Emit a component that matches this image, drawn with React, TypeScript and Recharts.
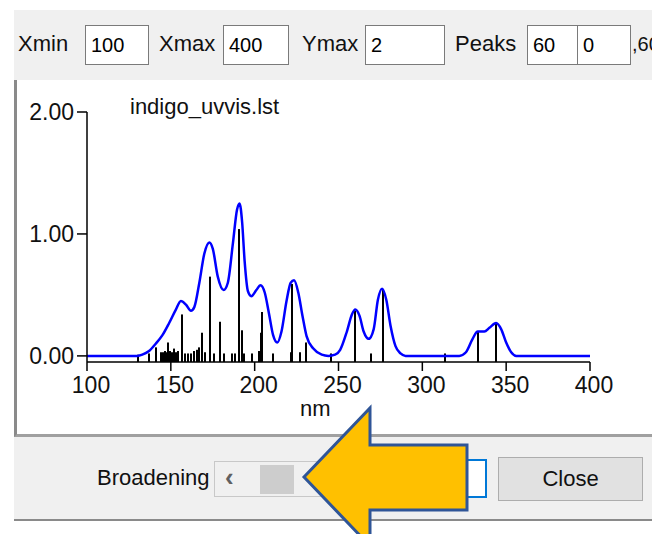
import { ComposedChart, Line, Bar, XAxis, YAxis } from 'recharts';

// broadened spectrum (nm / absorbance)
const curveNm = [
  100, 130, 133, 137, 141, 145, 149, 153, 156, 159, 162, 164, 167, 170, 173, 175, 178, 181.5,
  184, 187, 189.5, 191, 192.5, 194, 196, 198, 201, 203.5, 206, 208.5, 211, 213.5, 216, 219,
  221.5, 223.5, 226, 228.5, 231, 235, 240, 244, 248, 251, 255, 258, 260, 262.5, 265, 268,
  271, 273.5, 276, 278.5, 281, 284, 287, 290, 322, 326, 330, 333, 337, 340, 344, 347, 350,
  353, 356, 400,
];
const curveAbs = [
  0, 0, 0.01, 0.04, 0.1, 0.17, 0.27, 0.38, 0.45, 0.42, 0.37, 0.4, 0.6, 0.84, 0.93, 0.88, 0.65,
  0.54, 0.6, 0.92, 1.2, 1.25, 1.1, 0.78, 0.53, 0.49, 0.54, 0.58, 0.52, 0.35, 0.17, 0.11, 0.2,
  0.45, 0.6, 0.62, 0.52, 0.33, 0.16, 0.06, 0.01, 0, 0.01, 0.05, 0.2, 0.34, 0.38, 0.33, 0.2,
  0.14, 0.22, 0.46, 0.55, 0.46, 0.25, 0.08, 0.02, 0, 0, 0.03, 0.14, 0.2, 0.2, 0.23, 0.27, 0.22,
  0.11, 0.03, 0, 0,
];

// stick spectrum (transitions)
const stickNm = [
  130.3, 137, 141, 144, 145.5, 146.5, 147.5, 148.4, 149.5, 150.5, 151.8, 153, 154.5, 156.6,
  158.5, 160.5, 162, 163.9, 165.5, 166.9, 168.5, 170.3, 173.3, 176, 179.4, 182, 186.6, 188.5,
  190.4, 192.4, 193.4, 198.4, 202.5, 203.5, 204.3, 210.7, 221.5, 222.3, 227.2, 230.8, 245.6,
  260.1, 269.5, 276.6, 313.7, 333.2, 343.9,
];
const stickHeight = [
  0.01, 0.02, 0.07, 0.03, 0.03, 0.04, 0.03, 0.11, 0.04, 0.03, 0.06, 0.03, 0.04, 0.34, 0.02,
  0.02, 0.02, 0.04, 0.05, 0.07, 0.19, 0.03, 0.65, 0.02, 0.28, 0.02, 0.02, 0.02, 1.04, 0.21,
  0.02, 0.02, 0.04, 0.19, 0.36, 0.02, 0.03, 0.59, 0.03, 0.11, 0.02, 0.37, 0.02, 0.54, 0.02,
  0.2, 0.27,
];

const xTicks = [100, 150, 200, 250, 300, 350, 400];
const yTicks = [0, 1, 2];
const Y_MIN = -0.05;

const table = [
  ...curveNm.map((x, i) => ({ x, abs: curveAbs[i] })),
  ...stickNm.map((x, i) => ({ x, stick: [Y_MIN, stickHeight[i]] })),
].sort((a, b) => a.x - b.x);

const font = '"Liberation Sans", Arial, sans-serif';

const Stick = (p: any) => {
  if (p.height == null || isNaN(p.height)) return null;
  const cx = Math.round(p.x + p.width / 2);
  return <rect x={cx - 1} y={p.y} width={2} height={p.height} fill="#000" />;
};

const box = (left: number, width: number, text: string) => (
  <div
    style={{
      position: 'absolute', left, top: 25, width, height: 40, boxSizing: 'border-box',
      border: '1px solid #7a7a7a', background: '#fff', fontSize: 20, lineHeight: '38px',
      paddingLeft: 5, color: '#000',
    }}
  >
    {text}
  </div>
);

const label = (left: number, text: string) => (
  <div style={{ position: 'absolute', left, top: 31, fontSize: 22, color: '#111' }}>{text}</div>
);

export default function App() {
  return (
    <div
      style={{
        position: 'relative', width: 660, height: 542, margin: -8, overflow: 'hidden',
        background: '#fff', fontFamily: font,
      }}
    >
      {/* top toolbar */}
      <div style={{ position: 'absolute', left: 14, top: 10, width: 646, height: 70, background: '#f0f0f0' }} />
      {label(18, 'Xmin')}
      {box(85, 64, '100')}
      {label(159, 'Xmax')}
      {box(223, 66, '400')}
      {label(302, 'Ymax')}
      {box(365, 80, '2')}
      {label(455, 'Peaks')}
      {box(527, 51, '60')}
      {box(577, 54, '0')}
      <div style={{ position: 'absolute', left: 632, top: 33, fontSize: 20, color: '#111' }}>,60</div>

      {/* chart panel */}
      <div
        style={{
          position: 'absolute', left: 14, top: 80, width: 641, height: 357, boxSizing: 'border-box',
          background: '#fff', borderLeft: '3px solid #8a8a8a', borderRight: '2px solid #a0a0a0',
          borderBottom: '3px solid #a0a0a0',
        }}
      />
      <div style={{ position: 'absolute', left: 0, top: 0 }}>
        <ComposedChart width={660} height={440} data={table} margin={{ top: 112, right: 70, left: 0, bottom: 38 }}>
          <XAxis
            dataKey="x"
            type="number"
            domain={[100, 400]}
            ticks={xTicks}
            allowDataOverflow
            height={40}
            tickSize={9}
            tickMargin={6}
            axisLine={{ stroke: '#000', strokeWidth: 1.5 }}
            tickLine={{ stroke: '#000', strokeWidth: 1.5 }}
            tick={{ fontSize: 23, fill: '#111', fontFamily: font, dx: 4 }}
          />
          <YAxis
            type="number"
            domain={[Y_MIN, 2]}
            ticks={yTicks}
            allowDataOverflow
            width={87}
            tickSize={10}
            tickMargin={3}
            tickFormatter={(v: number) => v.toFixed(2)}
            axisLine={{ stroke: '#000', strokeWidth: 1.5 }}
            tickLine={{ stroke: '#000', strokeWidth: 1.5 }}
            tick={{ fontSize: 23, fill: '#111', fontFamily: font }}
          />
          <Line
            type="monotone"
            dataKey="abs"
            stroke="#0000ff"
            strokeWidth={2.5}
            dot={false}
            connectNulls
            isAnimationActive={false}
          />
          <Bar dataKey="stick" fill="#000" barSize={2} shape={Stick} isAnimationActive={false} />
        </ComposedChart>
      </div>
      <div style={{ position: 'absolute', left: 130, top: 94, fontSize: 22, color: '#111' }}>indigo_uvvis.lst</div>
      <div style={{ position: 'absolute', left: 300, top: 396, fontSize: 22, color: '#111' }}>nm</div>

      {/* bottom bar */}
      <div
        style={{
          position: 'absolute', left: 14, top: 437, width: 646, height: 84, boxSizing: 'border-box',
          background: '#f0f0f0', borderBottom: '2px solid #8a8a8a',
        }}
      />
      <div style={{ position: 'absolute', left: 97, top: 465, fontSize: 22, color: '#111' }}>Broadening</div>
      <div
        style={{
          position: 'absolute', left: 214, top: 461, width: 120, height: 36, boxSizing: 'border-box',
          border: '1px solid #c8c8c8', background: '#f0f0f0',
        }}
      />
      <div style={{ position: 'absolute', left: 225, top: 462, fontSize: 26, fontWeight: 'bold', color: '#606060' }}>‹</div>
      <div style={{ position: 'absolute', left: 260, top: 465, width: 34, height: 29, background: '#cdcdcd' }} />
      <div
        style={{
          position: 'absolute', left: 380, top: 459, width: 107, height: 39, boxSizing: 'border-box',
          border: '2px solid #0078d7', background: '#fff',
        }}
      />
      <div
        style={{
          position: 'absolute', left: 498, top: 457, width: 145, height: 44, boxSizing: 'border-box',
          border: '1px solid #adadad', background: '#e1e1e1', fontSize: 22, color: '#111',
          textAlign: 'center', lineHeight: '42px',
        }}
      >
        Close
      </div>

      {/* callout arrow */}
      <svg width={660} height={542} style={{ position: 'absolute', left: 0, top: 0 }}>
        <polygon
          points="304,477 370,408 370,445 467,445 467,510 370,510 370,546"
          fill="#FFC000"
          stroke="#2F5597"
          strokeWidth={3}
          strokeLinejoin="miter"
        />
      </svg>
    </div>
  );
}
